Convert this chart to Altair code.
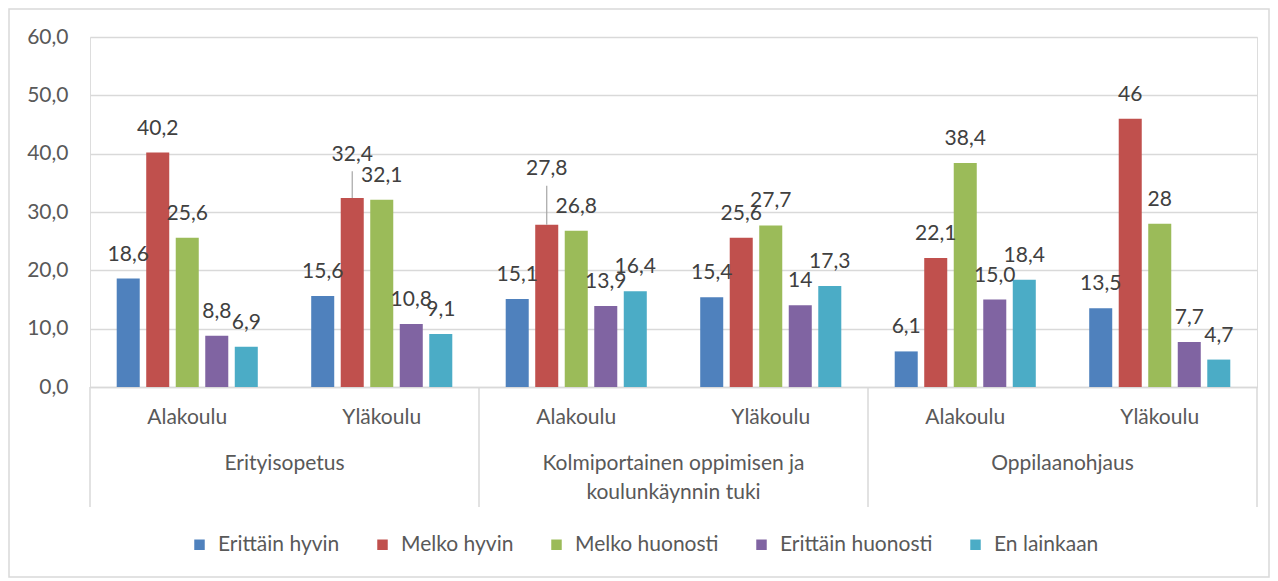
import altair as alt
import pandas as pd

groups = ["Erityisopetus", "Kolmiportainen oppimisen ja\nkoulunkäynnin tuki", "Oppilaanohjaus"]
levels = ["Alakoulu", "Yläkoulu"]
series = ["Erittäin hyvin", "Melko hyvin", "Melko huonosti", "Erittäin huonosti", "En lainkaan"]
colors = ["#4F81BD", "#C0504D", "#9BBB59", "#8064A2", "#4BACC6"]

values = {
    "Erittäin hyvin":    [18.6, 15.6, 15.1, 15.4, 6.1, 13.5],
    "Melko hyvin":       [40.2, 32.4, 27.8, 25.6, 22.1, 46.0],
    "Melko huonosti":    [25.6, 32.1, 26.8, 27.7, 38.4, 28.0],
    "Erittäin huonosti": [8.8, 10.8, 13.9, 14.0, 15.0, 7.7],
    "En lainkaan":       [6.9, 9.1, 16.4, 17.3, 18.4, 4.7],
}
labels = {
    "Erittäin hyvin":    ["18,6", "15,6", "15,1", "15,4", "6,1", "13,5"],
    "Melko hyvin":       ["40,2", "32,4", "27,8", "25,6", "22,1", "46"],
    "Melko huonosti":    ["25,6", "32,1", "26,8", "27,7", "38,4", "28"],
    "Erittäin huonosti": ["8,8", "10,8", "13,9", "14", "15,0", "7,7"],
    "En lainkaan":       ["6,9", "9,1", "16,4", "17,3", "18,4", "4,7"],
}

subs = []
sub_rows = []
for gi, g in enumerate(groups):
    for li, lv in enumerate(levels):
        key = f"{gi}|{lv}"
        subs.append(key)
        sub_rows.append({"sub": key, "level": lv, "group": g, "idx": gi * 2 + li})

rows = []
for s in series:
    for i, key in enumerate(subs):
        rows.append({"sub": key, "series": s, "value": values[s][i], "label": labels[s][i]})
df = pd.DataFrame(rows)
sub_df = pd.DataFrame(sub_rows)

FONT = "Lato"
FS = 21
TXT = "#404040"
AX = "#595959"
W, H = 1167, 350

xenc = alt.X("sub:N", sort=subs, scale=alt.Scale(paddingInner=0, paddingOuter=0),
             axis=alt.Axis(labels=False, ticks=False, title=None, domainColor="#D9D9D9",
                           domainWidth=1.5, grid=False))
xoff = alt.XOffset("series:N", sort=series,
                   scale=alt.Scale(paddingInner=0.22, paddingOuter=0.905))

base = alt.Chart(df)

bars = base.mark_bar().encode(
    x=xenc,
    xOffset=xoff,
    y=alt.Y("value:Q", scale=alt.Scale(domain=[0, 60]),
            axis=alt.Axis(values=[0, 10, 20, 30, 40, 50, 60], title=None, domain=False,
                          ticks=False, gridColor="#D9D9D9", gridWidth=1.5,
                          labelExpr="replace(format(datum.value, '.1f'), '.', ',')",
                          labelFontSize=FS, labelColor=AX, labelFont=FONT,
                          labelPadding=22)),
    color=alt.Color("series:N", sort=series,
                    scale=alt.Scale(domain=series, range=colors),
                    legend=alt.Legend(title=None, orient="none", legendX=99, legendY=497,
                                      direction="horizontal", columns=5,
                                      symbolType="square", symbolSize=110,
                                      symbolStrokeWidth=0, labelFontSize=FS,
                                      labelFont=FONT, labelColor=AX,
                                      columnPadding=32, labelLimit=400, labelOffset=8)),
)

lifted = "datum.label == '32,4' || datum.label == '27,8'"

txt = base.transform_filter("!(" + lifted + ")").mark_text(
    dy=-24, baseline="middle", fontSize=FS, font=FONT, color=TXT
).encode(x=xenc, xOffset=xoff, y="value:Q", text="label:N")

txt_a = base.transform_filter("datum.label == '32,4'").mark_text(
    dy=-43, baseline="middle", fontSize=FS, font=FONT, color=TXT
).encode(x=xenc, xOffset=xoff, y="value:Q", text="label:N")

txt_b = base.transform_filter("datum.label == '27,8'").mark_text(
    dy=-56, baseline="middle", fontSize=FS, font=FONT, color=TXT
).encode(x=xenc, xOffset=xoff, y="value:Q", text="label:N")

leaders = base.transform_filter(lifted).transform_calculate(
    top="datum.label == '32,4' ? datum.value + 4.6 : datum.value + 6.7"
).mark_rule(color="#A6A6A6", strokeWidth=1.2).encode(
    x=xenc, xOffset=xoff, y="value:Q", y2="top:Q")

sb = alt.Chart(sub_df)
level_txt = sb.mark_text(baseline="middle", fontSize=FS, font=FONT, color=AX).encode(
    x=alt.X("sub:N", sort=subs), y=alt.value(381), text="level:N")

group_txt = sb.transform_filter("datum.idx % 2 == 1").mark_text(
    baseline="top", fontSize=FS, font=FONT, color=AX, lineBreak="\n", lineHeight=29
).encode(x=alt.X("sub:N", sort=subs, bandPosition=0), y=alt.value(416), text="group:N")

sep_a = sb.transform_filter("datum.idx % 2 == 0").mark_rule(color="#D9D9D9", strokeWidth=1.5).encode(
    x=alt.X("sub:N", sort=subs, bandPosition=0), y=alt.value(H), y2=alt.value(470))
sep_b = sb.transform_filter("datum.idx == 5").mark_rule(color="#D9D9D9", strokeWidth=1.5).encode(
    x=alt.X("sub:N", sort=subs, bandPosition=1), y=alt.value(H), y2=alt.value(470))

frame = alt.Chart(sub_df).transform_filter("datum.idx == 0").mark_rect(
    fill=None, stroke="#D9D9D9", strokeWidth=1.5
).encode(x=alt.value(-81), x2=alt.value(1179), y=alt.value(-28), y2=alt.value(540))

chart = alt.layer(frame, bars, leaders, txt, txt_a, txt_b, level_txt, group_txt, sep_a, sep_b).properties(
    width=W, height=H, autosize=alt.AutoSizeParams(type="none"),
    padding={"left": 82, "top": 29, "right": 13, "bottom": 192}
).configure_view(stroke=None).configure(background="white")

chart.save("out.html", embed_options={"renderer": "svg", "actions": False})
